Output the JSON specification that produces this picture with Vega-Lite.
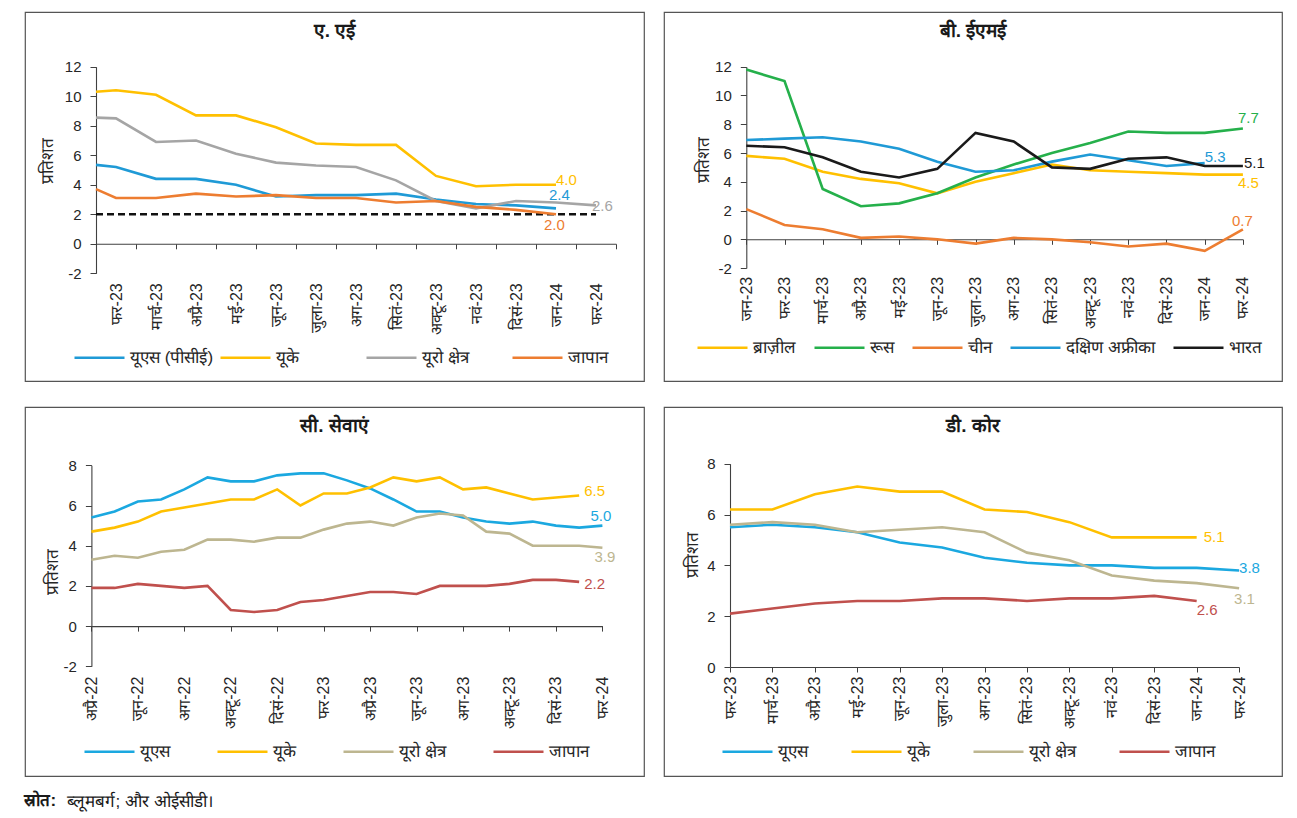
{
  "$schema": "https://vega.github.io/schema/vega-lite/v6.json",
  "background": "white",
  "padding": {"left": 24, "top": 11, "right": 10, "bottom": 4},
  "config": {
    "font": "Liberation Sans",
    "view": {"stroke": "#555555", "strokeWidth": 1.2},
    "axis": {"grid": false, "labelFontSize": 15, "labelColor": "#262626", "tickColor": "#404040", "domainColor": "#404040", "tickWidth": 1, "domainWidth": 1.1, "titleFontSize": 17, "titleFontWeight": "normal", "titleColor": "#262626", "labelFlush": false, "labelOverlap": false},
    "title": {"fontSize": 19, "fontWeight": "bold", "offset": -29, "baseline": "alphabetic", "anchor": "middle", "frame": "group", "color": "#1a1a1a"},
    "legend": {"orient": "none", "direction": "horizontal", "title": null, "symbolType": "stroke", "symbolSize": 2500, "symbolStrokeWidth": 2.6, "labelFontSize": 17, "labelColor": "#262626", "labelOffset": 4, "columnPadding": 25, "labelLimit": 300}
  },
  "title": {"text": "स्रोत:", "orient": "bottom", "anchor": "start", "frame": "bounds", "fontSize": 17, "fontWeight": "bold", "offset": 0, "dy": -17, "baseline": "top", "color": "#1a1a1a"},
  "vconcat": [
    {
      "title": {"text": "ब्लूमबर्ग; और ओईसीडी।", "orient": "bottom", "anchor": "start", "frame": "bounds", "fontSize": 17, "fontWeight": "normal", "offset": 17, "dx": 43, "baseline": "top", "color": "#1a1a1a"},
      "columns": 2,
      "spacing": {"row": 24, "column": 18},
      "resolve": {"scale": {"x": "independent", "y": "independent", "color": "independent"}, "legend": {"color": "independent"}},
      "concat": [
        {
          "width": 619, "height": 369,
          "title": {"text": "ए. एई"},
          "data": {"values": [
            {"s": "यूएस (पीसीई)", "m": 0.5, "v": 5.35}, {"s": "यूएस (पीसीई)", "m": 1, "v": 5.2}, {"s": "यूएस (पीसीई)", "m": 2, "v": 4.4}, {"s": "यूएस (पीसीई)", "m": 3, "v": 4.4}, {"s": "यूएस (पीसीई)", "m": 4, "v": 4.0}, {"s": "यूएस (पीसीई)", "m": 5, "v": 3.2}, {"s": "यूएस (पीसीई)", "m": 6, "v": 3.3}, {"s": "यूएस (पीसीई)", "m": 7, "v": 3.3}, {"s": "यूएस (पीसीई)", "m": 8, "v": 3.4}, {"s": "यूएस (पीसीई)", "m": 9, "v": 3.0}, {"s": "यूएस (पीसीई)", "m": 10, "v": 2.7}, {"s": "यूएस (पीसीई)", "m": 11, "v": 2.6}, {"s": "यूएस (पीसीई)", "m": 12, "v": 2.4},
            {"s": "यूके", "m": 0.5, "v": 10.3}, {"s": "यूके", "m": 1, "v": 10.4}, {"s": "यूके", "m": 2, "v": 10.1}, {"s": "यूके", "m": 3, "v": 8.7}, {"s": "यूके", "m": 4, "v": 8.7}, {"s": "यूके", "m": 5, "v": 7.9}, {"s": "यूके", "m": 6, "v": 6.8}, {"s": "यूके", "m": 7, "v": 6.7}, {"s": "यूके", "m": 8, "v": 6.7}, {"s": "यूके", "m": 9, "v": 4.6}, {"s": "यूके", "m": 10, "v": 3.9}, {"s": "यूके", "m": 11, "v": 4.0}, {"s": "यूके", "m": 12, "v": 4.0},
            {"s": "यूरो क्षेत्र", "m": 0.5, "v": 8.55}, {"s": "यूरो क्षेत्र", "m": 1, "v": 8.5}, {"s": "यूरो क्षेत्र", "m": 2, "v": 6.9}, {"s": "यूरो क्षेत्र", "m": 3, "v": 7.0}, {"s": "यूरो क्षेत्र", "m": 4, "v": 6.1}, {"s": "यूरो क्षेत्र", "m": 5, "v": 5.5}, {"s": "यूरो क्षेत्र", "m": 6, "v": 5.3}, {"s": "यूरो क्षेत्र", "m": 7, "v": 5.2}, {"s": "यूरो क्षेत्र", "m": 8, "v": 4.3}, {"s": "यूरो क्षेत्र", "m": 9, "v": 2.9}, {"s": "यूरो क्षेत्र", "m": 10, "v": 2.4}, {"s": "यूरो क्षेत्र", "m": 11, "v": 2.9}, {"s": "यूरो क्षेत्र", "m": 12, "v": 2.8}, {"s": "यूरो क्षेत्र", "m": 13, "v": 2.6},
            {"s": "जापान", "m": 0.5, "v": 3.7}, {"s": "जापान", "m": 1, "v": 3.1}, {"s": "जापान", "m": 2, "v": 3.1}, {"s": "जापान", "m": 3, "v": 3.4}, {"s": "जापान", "m": 4, "v": 3.2}, {"s": "जापान", "m": 5, "v": 3.3}, {"s": "जापान", "m": 6, "v": 3.1}, {"s": "जापान", "m": 7, "v": 3.1}, {"s": "जापान", "m": 8, "v": 2.8}, {"s": "जापान", "m": 9, "v": 2.9}, {"s": "जापान", "m": 10, "v": 2.5}, {"s": "जापान", "m": 11, "v": 2.3}, {"s": "जापान", "m": 12, "v": 2.0}
          ]},
          "layer": [
            {
              "data": {"values": [{"m": 0.5, "m2": 13, "v": 2}]},
              "mark": {"type": "rule", "color": "#111111", "strokeWidth": 2.5, "strokeDash": [7, 4]},
              "encoding": {"x": {"field": "m", "type": "quantitative"}, "x2": {"field": "m2"}, "y": {"field": "v", "type": "quantitative"}}
            },
            {
              "mark": {"type": "line", "strokeWidth": 2.6},
              "encoding": {
                "x": {"field": "m", "type": "quantitative", "title": null,
                  "scale": {"domain": [0.5, 13.5], "range": [71, 591], "nice": false, "zero": false},
                  "axis": {"values": [0.5, 1.5, 2.5, 3.5, 4.5, 5.5, 6.5, 7.5, 8.5, 9.5, 10.5, 11.5, 12.5, 13.5], "labelExpr": "['फर-23','मार्च-23','अप्रै-23','मई-23','जून-23','जुला-23','अग-23','सितं-23','अक्टू-23','नवं-23','दिसं-23','जन-24','फर-24',''][floor(datum.value)]", "labelOffset": 20, "labelAngle": -90, "labelFontSize": 16, "labelPadding": 34, "tickSize": 5, "offset": -137.2}},
                "y": {"field": "v", "type": "quantitative", "title": "प्रतिशत",
                  "scale": {"domain": [-2, 12], "range": [261.3, 54.7], "nice": false, "zero": false},
                  "axis": {"values": [-2, 0, 2, 4, 6, 8, 10, 12], "labelExpr": "'' + datum.value", "offset": -71, "tickSize": 6, "labelPadding": 9, "titleX": -49, "titleY": 148, "titleAngle": 270, "titleAlign": "center", "titleBaseline": "middle"}},
                "color": {"field": "s", "type": "nominal",
                  "scale": {"domain": ["यूएस (पीसीई)", "यूके", "यूरो क्षेत्र", "जापान"], "range": ["#1F9AD6", "#FFC000", "#A5A5A5", "#ED7D31"]},
                  "legend": {"legendX": 48, "legendY": 319, "columns": 4, "gridAlign": "all", "columnPadding": 1}}
              }
            },
            {"transform": [{"filter": "datum.s == 'यूके' && datum.m == 12"}], "mark": {"type": "text", "align": "left", "baseline": "middle", "dx": 0, "dy": -5, "fontSize": 15, "color": "#FFC000"}, "encoding": {"x": {"field": "m", "type": "quantitative"}, "y": {"field": "v", "type": "quantitative"}, "text": {"field": "v", "format": ".1f"}}},
            {"transform": [{"filter": "datum.s == 'यूएस (पीसीई)' && datum.m == 12"}], "mark": {"type": "text", "align": "left", "baseline": "middle", "dx": -7, "dy": -13, "fontSize": 15, "color": "#1F9AD6"}, "encoding": {"x": {"field": "m", "type": "quantitative"}, "y": {"field": "v", "type": "quantitative"}, "text": {"field": "v", "format": ".1f"}}},
            {"transform": [{"filter": "datum.s == 'यूरो क्षेत्र' && datum.m == 13"}], "mark": {"type": "text", "align": "left", "baseline": "middle", "dx": -4, "dy": 1, "fontSize": 15, "color": "#A5A5A5"}, "encoding": {"x": {"field": "m", "type": "quantitative"}, "y": {"field": "v", "type": "quantitative"}, "text": {"field": "v", "format": ".1f"}}},
            {"transform": [{"filter": "datum.s == 'जापान' && datum.m == 12"}], "mark": {"type": "text", "align": "left", "baseline": "middle", "dx": -12, "dy": 11, "fontSize": 15, "color": "#ED7D31"}, "encoding": {"x": {"field": "m", "type": "quantitative"}, "y": {"field": "v", "type": "quantitative"}, "text": {"field": "v", "format": ".1f"}}}
          ]
        },
        {
          "width": 618, "height": 369,
          "title": {"text": "बी. ईएमई"},
          "data": {"values": [
            {"s": "ब्राज़ील", "m": 0, "v": 5.8}, {"s": "ब्राज़ील", "m": 1, "v": 5.6}, {"s": "ब्राज़ील", "m": 2, "v": 4.7}, {"s": "ब्राज़ील", "m": 3, "v": 4.2}, {"s": "ब्राज़ील", "m": 4, "v": 3.9}, {"s": "ब्राज़ील", "m": 5, "v": 3.2}, {"s": "ब्राज़ील", "m": 6, "v": 4.0}, {"s": "ब्राज़ील", "m": 7, "v": 4.6}, {"s": "ब्राज़ील", "m": 8, "v": 5.2}, {"s": "ब्राज़ील", "m": 9, "v": 4.8}, {"s": "ब्राज़ील", "m": 10, "v": 4.7}, {"s": "ब्राज़ील", "m": 11, "v": 4.6}, {"s": "ब्राज़ील", "m": 12, "v": 4.5}, {"s": "ब्राज़ील", "m": 13, "v": 4.5},
            {"s": "रूस", "m": 0, "v": 11.8}, {"s": "रूस", "m": 1, "v": 11.0}, {"s": "रूस", "m": 2, "v": 3.5}, {"s": "रूस", "m": 3, "v": 2.3}, {"s": "रूस", "m": 4, "v": 2.5}, {"s": "रूस", "m": 5, "v": 3.2}, {"s": "रूस", "m": 6, "v": 4.3}, {"s": "रूस", "m": 7, "v": 5.2}, {"s": "रूस", "m": 8, "v": 6.0}, {"s": "रूस", "m": 9, "v": 6.7}, {"s": "रूस", "m": 10, "v": 7.5}, {"s": "रूस", "m": 11, "v": 7.4}, {"s": "रूस", "m": 12, "v": 7.4}, {"s": "रूस", "m": 13, "v": 7.7},
            {"s": "चीन", "m": 0, "v": 2.1}, {"s": "चीन", "m": 1, "v": 1.0}, {"s": "चीन", "m": 2, "v": 0.7}, {"s": "चीन", "m": 3, "v": 0.1}, {"s": "चीन", "m": 4, "v": 0.2}, {"s": "चीन", "m": 5, "v": 0.0}, {"s": "चीन", "m": 6, "v": -0.3}, {"s": "चीन", "m": 7, "v": 0.1}, {"s": "चीन", "m": 8, "v": 0.0}, {"s": "चीन", "m": 9, "v": -0.2}, {"s": "चीन", "m": 10, "v": -0.5}, {"s": "चीन", "m": 11, "v": -0.3}, {"s": "चीन", "m": 12, "v": -0.8}, {"s": "चीन", "m": 13, "v": 0.7},
            {"s": "दक्षिण अफ्रीका", "m": 0, "v": 6.9}, {"s": "दक्षिण अफ्रीका", "m": 1, "v": 7.0}, {"s": "दक्षिण अफ्रीका", "m": 2, "v": 7.1}, {"s": "दक्षिण अफ्रीका", "m": 3, "v": 6.8}, {"s": "दक्षिण अफ्रीका", "m": 4, "v": 6.3}, {"s": "दक्षिण अफ्रीका", "m": 5, "v": 5.4}, {"s": "दक्षिण अफ्रीका", "m": 6, "v": 4.7}, {"s": "दक्षिण अफ्रीका", "m": 7, "v": 4.8}, {"s": "दक्षिण अफ्रीका", "m": 8, "v": 5.4}, {"s": "दक्षिण अफ्रीका", "m": 9, "v": 5.9}, {"s": "दक्षिण अफ्रीका", "m": 10, "v": 5.5}, {"s": "दक्षिण अफ्रीका", "m": 11, "v": 5.1}, {"s": "दक्षिण अफ्रीका", "m": 12, "v": 5.3},
            {"s": "भारत", "m": 0, "v": 6.5}, {"s": "भारत", "m": 1, "v": 6.4}, {"s": "भारत", "m": 2, "v": 5.7}, {"s": "भारत", "m": 3, "v": 4.7}, {"s": "भारत", "m": 4, "v": 4.3}, {"s": "भारत", "m": 5, "v": 4.9}, {"s": "भारत", "m": 6, "v": 7.4}, {"s": "भारत", "m": 7, "v": 6.8}, {"s": "भारत", "m": 8, "v": 5.0}, {"s": "भारत", "m": 9, "v": 4.9}, {"s": "भारत", "m": 10, "v": 5.6}, {"s": "भारत", "m": 11, "v": 5.7}, {"s": "भारत", "m": 12, "v": 5.1}, {"s": "भारत", "m": 13, "v": 5.1}
          ]},
          "layer": [
            {
              "mark": {"type": "line", "strokeWidth": 2.6},
              "encoding": {
                "x": {"field": "m", "type": "quantitative", "title": null,
                  "scale": {"domain": [0, 13], "range": [82.3, 578.9], "nice": false, "zero": false},
                  "axis": {"values": [0, 1, 2, 3, 4, 5, 6, 7, 8, 9, 10, 11, 12, 13], "labelExpr": "['जन-23','फर-23','मार्च-23','अप्रै-23','मई-23','जून-23','जुला-23','अग-23','सितं-23','अक्टू-23','नवं-23','दिसं-23','जन-24','फर-24'][datum.value]", "labelAngle": -90, "labelFontSize": 16, "labelPadding": 32, "tickSize": 5, "offset": -141.7}},
                "y": {"field": "v", "type": "quantitative", "title": "प्रतिशत",
                  "scale": {"domain": [-2, 12], "range": [256.1, 54.7], "nice": false, "zero": false},
                  "axis": {"values": [-2, 0, 2, 4, 6, 8, 10, 12], "labelExpr": "'' + datum.value", "offset": -82.3, "tickSize": 6, "labelPadding": 9, "titleX": -43, "titleY": 147, "titleAngle": 270, "titleAlign": "center", "titleBaseline": "middle"}},
                "color": {"field": "s", "type": "nominal",
                  "scale": {"domain": ["ब्राज़ील", "रूस", "चीन", "दक्षिण अफ्रीका", "भारत"], "range": ["#FFC000", "#25B04B", "#ED7D31", "#1F9AD6", "#1A1A1A"]},
                  "legend": {"legendX": 32, "legendY": 309, "columnPadding": 13}}
              }
            },
            {"transform": [{"filter": "datum.s == 'रूस' && datum.m == 13"}], "mark": {"type": "text", "align": "left", "baseline": "middle", "dx": -5, "dy": -11, "fontSize": 15, "color": "#25B04B"}, "encoding": {"x": {"field": "m", "type": "quantitative"}, "y": {"field": "v", "type": "quantitative"}, "text": {"field": "v", "format": ".1f"}}},
            {"transform": [{"filter": "datum.s == 'दक्षिण अफ्रीका' && datum.m == 12"}], "mark": {"type": "text", "align": "left", "baseline": "middle", "dx": 0, "dy": -6, "fontSize": 15, "color": "#1F9AD6"}, "encoding": {"x": {"field": "m", "type": "quantitative"}, "y": {"field": "v", "type": "quantitative"}, "text": {"field": "v", "format": ".1f"}}},
            {"transform": [{"filter": "datum.s == 'भारत' && datum.m == 13"}], "mark": {"type": "text", "align": "left", "baseline": "middle", "dx": 1, "dy": -3, "fontSize": 15, "color": "#1A1A1A"}, "encoding": {"x": {"field": "m", "type": "quantitative"}, "y": {"field": "v", "type": "quantitative"}, "text": {"field": "v", "format": ".1f"}}},
            {"transform": [{"filter": "datum.s == 'ब्राज़ील' && datum.m == 13"}], "mark": {"type": "text", "align": "left", "baseline": "middle", "dx": -5, "dy": 8, "fontSize": 15, "color": "#FFC000"}, "encoding": {"x": {"field": "m", "type": "quantitative"}, "y": {"field": "v", "type": "quantitative"}, "text": {"field": "v", "format": ".1f"}}},
            {"transform": [{"filter": "datum.s == 'चीन' && datum.m == 13"}], "mark": {"type": "text", "align": "left", "baseline": "middle", "dx": -11, "dy": -8, "fontSize": 15, "color": "#ED7D31"}, "encoding": {"x": {"field": "m", "type": "quantitative"}, "y": {"field": "v", "type": "quantitative"}, "text": {"field": "v", "format": ".1f"}}}
          ]
        },
        {
          "width": 619, "height": 369,
          "title": {"text": "सी. सेवाएं"},
          "data": {"values": [
            {"s": "यूएस", "m": 0, "v": 5.4}, {"s": "यूएस", "m": 1, "v": 5.7}, {"s": "यूएस", "m": 2, "v": 6.2}, {"s": "यूएस", "m": 3, "v": 6.3}, {"s": "यूएस", "m": 4, "v": 6.8}, {"s": "यूएस", "m": 5, "v": 7.4}, {"s": "यूएस", "m": 6, "v": 7.2}, {"s": "यूएस", "m": 7, "v": 7.2}, {"s": "यूएस", "m": 8, "v": 7.5}, {"s": "यूएस", "m": 9, "v": 7.6}, {"s": "यूएस", "m": 10, "v": 7.6}, {"s": "यूएस", "m": 11, "v": 7.25}, {"s": "यूएस", "m": 12, "v": 6.85}, {"s": "यूएस", "m": 13, "v": 6.3}, {"s": "यूएस", "m": 14, "v": 5.7}, {"s": "यूएस", "m": 15, "v": 5.7}, {"s": "यूएस", "m": 16, "v": 5.4}, {"s": "यूएस", "m": 17, "v": 5.2}, {"s": "यूएस", "m": 18, "v": 5.1}, {"s": "यूएस", "m": 19, "v": 5.2}, {"s": "यूएस", "m": 20, "v": 5.0}, {"s": "यूएस", "m": 21, "v": 4.9}, {"s": "यूएस", "m": 22, "v": 5.0},
            {"s": "यूके", "m": 0, "v": 4.7}, {"s": "यूके", "m": 1, "v": 4.9}, {"s": "यूके", "m": 2, "v": 5.2}, {"s": "यूके", "m": 3, "v": 5.7}, {"s": "यूके", "m": 4, "v": 5.9}, {"s": "यूके", "m": 5, "v": 6.1}, {"s": "यूके", "m": 6, "v": 6.3}, {"s": "यूके", "m": 7, "v": 6.3}, {"s": "यूके", "m": 8, "v": 6.8}, {"s": "यूके", "m": 9, "v": 6.0}, {"s": "यूके", "m": 10, "v": 6.6}, {"s": "यूके", "m": 11, "v": 6.6}, {"s": "यूके", "m": 12, "v": 6.9}, {"s": "यूके", "m": 13, "v": 7.4}, {"s": "यूके", "m": 14, "v": 7.2}, {"s": "यूके", "m": 15, "v": 7.4}, {"s": "यूके", "m": 16, "v": 6.8}, {"s": "यूके", "m": 17, "v": 6.9}, {"s": "यूके", "m": 18, "v": 6.6}, {"s": "यूके", "m": 19, "v": 6.3}, {"s": "यूके", "m": 20, "v": 6.4}, {"s": "यूके", "m": 21, "v": 6.5},
            {"s": "यूरो क्षेत्र", "m": 0, "v": 3.3}, {"s": "यूरो क्षेत्र", "m": 1, "v": 3.5}, {"s": "यूरो क्षेत्र", "m": 2, "v": 3.4}, {"s": "यूरो क्षेत्र", "m": 3, "v": 3.7}, {"s": "यूरो क्षेत्र", "m": 4, "v": 3.8}, {"s": "यूरो क्षेत्र", "m": 5, "v": 4.3}, {"s": "यूरो क्षेत्र", "m": 6, "v": 4.3}, {"s": "यूरो क्षेत्र", "m": 7, "v": 4.2}, {"s": "यूरो क्षेत्र", "m": 8, "v": 4.4}, {"s": "यूरो क्षेत्र", "m": 9, "v": 4.4}, {"s": "यूरो क्षेत्र", "m": 10, "v": 4.8}, {"s": "यूरो क्षेत्र", "m": 11, "v": 5.1}, {"s": "यूरो क्षेत्र", "m": 12, "v": 5.2}, {"s": "यूरो क्षेत्र", "m": 13, "v": 5.0}, {"s": "यूरो क्षेत्र", "m": 14, "v": 5.4}, {"s": "यूरो क्षेत्र", "m": 15, "v": 5.6}, {"s": "यूरो क्षेत्र", "m": 16, "v": 5.5}, {"s": "यूरो क्षेत्र", "m": 17, "v": 4.7}, {"s": "यूरो क्षेत्र", "m": 18, "v": 4.6}, {"s": "यूरो क्षेत्र", "m": 19, "v": 4.0}, {"s": "यूरो क्षेत्र", "m": 20, "v": 4.0}, {"s": "यूरो क्षेत्र", "m": 21, "v": 4.0}, {"s": "यूरो क्षेत्र", "m": 22, "v": 3.9},
            {"s": "जापान", "m": 0, "v": 1.9}, {"s": "जापान", "m": 1, "v": 1.9}, {"s": "जापान", "m": 2, "v": 2.1}, {"s": "जापान", "m": 3, "v": 2.0}, {"s": "जापान", "m": 4, "v": 1.9}, {"s": "जापान", "m": 5, "v": 2.0}, {"s": "जापान", "m": 6, "v": 0.8}, {"s": "जापान", "m": 7, "v": 0.7}, {"s": "जापान", "m": 8, "v": 0.8}, {"s": "जापान", "m": 9, "v": 1.2}, {"s": "जापान", "m": 10, "v": 1.3}, {"s": "जापान", "m": 11, "v": 1.5}, {"s": "जापान", "m": 12, "v": 1.7}, {"s": "जापान", "m": 13, "v": 1.7}, {"s": "जापान", "m": 14, "v": 1.6}, {"s": "जापान", "m": 15, "v": 2.0}, {"s": "जापान", "m": 16, "v": 2.0}, {"s": "जापान", "m": 17, "v": 2.0}, {"s": "जापान", "m": 18, "v": 2.1}, {"s": "जापान", "m": 19, "v": 2.3}, {"s": "जापान", "m": 20, "v": 2.3}, {"s": "जापान", "m": 21, "v": 2.2}
          ]},
          "layer": [
            {
              "mark": {"type": "line", "strokeWidth": 2.6},
              "encoding": {
                "x": {"field": "m", "type": "quantitative", "title": null,
                  "scale": {"domain": [0, 22], "range": [66.4, 577.4], "nice": false, "zero": false},
                  "axis": {"values": [0, 2, 4, 6, 8, 10, 12, 14, 16, 18, 20, 22], "labelExpr": "['अप्रै-22','जून-22','अग-22','अक्टू-22','दिसं-22','फर-23','अप्रै-23','जून-23','अग-23','अक्टू-23','दिसं-23','फर-24'][datum.value / 2]", "labelAngle": -90, "labelFontSize": 16, "labelPadding": 45, "tickSize": 5, "offset": -149.9}},
                "y": {"field": "v", "type": "quantitative", "title": "प्रतिशत",
                  "scale": {"domain": [-2, 8], "range": [259.3, 58.3], "nice": false, "zero": false},
                  "axis": {"values": [-2, 0, 2, 4, 6, 8], "labelExpr": "'' + datum.value", "offset": -66.4, "tickSize": 6, "labelPadding": 9, "titleX": -39, "titleY": 164, "titleAngle": 270, "titleAlign": "center", "titleBaseline": "middle"}},
                "color": {"field": "s", "type": "nominal",
                  "scale": {"domain": ["यूएस", "यूके", "यूरो क्षेत्र", "जापान"], "range": ["#1BA8E0", "#FFC000", "#BDB690", "#C0504D"]},
                  "legend": {"legendX": 58, "legendY": 318, "columnPadding": 42}}
              }
            },
            {"transform": [{"filter": "datum.s == 'यूके' && datum.m == 21"}], "mark": {"type": "text", "align": "left", "baseline": "middle", "dx": 5, "dy": -4, "fontSize": 15, "color": "#FFC000"}, "encoding": {"x": {"field": "m", "type": "quantitative"}, "y": {"field": "v", "type": "quantitative"}, "text": {"field": "v", "format": ".1f"}}},
            {"transform": [{"filter": "datum.s == 'यूएस' && datum.m == 22"}], "mark": {"type": "text", "align": "left", "baseline": "middle", "dx": -12, "dy": -10, "fontSize": 15, "color": "#1BA8E0"}, "encoding": {"x": {"field": "m", "type": "quantitative"}, "y": {"field": "v", "type": "quantitative"}, "text": {"field": "v", "format": ".1f"}}},
            {"transform": [{"filter": "datum.s == 'यूरो क्षेत्र' && datum.m == 22"}], "mark": {"type": "text", "align": "left", "baseline": "middle", "dx": -8, "dy": 9, "fontSize": 15, "color": "#BDB690"}, "encoding": {"x": {"field": "m", "type": "quantitative"}, "y": {"field": "v", "type": "quantitative"}, "text": {"field": "v", "format": ".1f"}}},
            {"transform": [{"filter": "datum.s == 'जापान' && datum.m == 21"}], "mark": {"type": "text", "align": "left", "baseline": "middle", "dx": 5, "dy": 2, "fontSize": 15, "color": "#C0504D"}, "encoding": {"x": {"field": "m", "type": "quantitative"}, "y": {"field": "v", "type": "quantitative"}, "text": {"field": "v", "format": ".1f"}}}
          ]
        },
        {
          "width": 618, "height": 369,
          "title": {"text": "डी. कोर"},
          "data": {"values": [
            {"s": "यूएस", "m": 0, "v": 5.5}, {"s": "यूएस", "m": 1, "v": 5.6}, {"s": "यूएस", "m": 2, "v": 5.5}, {"s": "यूएस", "m": 3, "v": 5.3}, {"s": "यूएस", "m": 4, "v": 4.9}, {"s": "यूएस", "m": 5, "v": 4.7}, {"s": "यूएस", "m": 6, "v": 4.3}, {"s": "यूएस", "m": 7, "v": 4.1}, {"s": "यूएस", "m": 8, "v": 4.0}, {"s": "यूएस", "m": 9, "v": 4.0}, {"s": "यूएस", "m": 10, "v": 3.9}, {"s": "यूएस", "m": 11, "v": 3.9}, {"s": "यूएस", "m": 12, "v": 3.8},
            {"s": "यूके", "m": 0, "v": 6.2}, {"s": "यूके", "m": 1, "v": 6.2}, {"s": "यूके", "m": 2, "v": 6.8}, {"s": "यूके", "m": 3, "v": 7.1}, {"s": "यूके", "m": 4, "v": 6.9}, {"s": "यूके", "m": 5, "v": 6.9}, {"s": "यूके", "m": 6, "v": 6.2}, {"s": "यूके", "m": 7, "v": 6.1}, {"s": "यूके", "m": 8, "v": 5.7}, {"s": "यूके", "m": 9, "v": 5.1}, {"s": "यूके", "m": 10, "v": 5.1}, {"s": "यूके", "m": 11, "v": 5.1},
            {"s": "यूरो क्षेत्र", "m": 0, "v": 5.6}, {"s": "यूरो क्षेत्र", "m": 1, "v": 5.7}, {"s": "यूरो क्षेत्र", "m": 2, "v": 5.6}, {"s": "यूरो क्षेत्र", "m": 3, "v": 5.3}, {"s": "यूरो क्षेत्र", "m": 4, "v": 5.4}, {"s": "यूरो क्षेत्र", "m": 5, "v": 5.5}, {"s": "यूरो क्षेत्र", "m": 6, "v": 5.3}, {"s": "यूरो क्षेत्र", "m": 7, "v": 4.5}, {"s": "यूरो क्षेत्र", "m": 8, "v": 4.2}, {"s": "यूरो क्षेत्र", "m": 9, "v": 3.6}, {"s": "यूरो क्षेत्र", "m": 10, "v": 3.4}, {"s": "यूरो क्षेत्र", "m": 11, "v": 3.3}, {"s": "यूरो क्षेत्र", "m": 12, "v": 3.1},
            {"s": "जापान", "m": 0, "v": 2.1}, {"s": "जापान", "m": 1, "v": 2.3}, {"s": "जापान", "m": 2, "v": 2.5}, {"s": "जापान", "m": 3, "v": 2.6}, {"s": "जापान", "m": 4, "v": 2.6}, {"s": "जापान", "m": 5, "v": 2.7}, {"s": "जापान", "m": 6, "v": 2.7}, {"s": "जापान", "m": 7, "v": 2.6}, {"s": "जापान", "m": 8, "v": 2.7}, {"s": "जापान", "m": 9, "v": 2.7}, {"s": "जापान", "m": 10, "v": 2.8}, {"s": "जापान", "m": 11, "v": 2.6}
          ]},
          "layer": [
            {
              "mark": {"type": "line", "strokeWidth": 2.6},
              "encoding": {
                "x": {"field": "m", "type": "quantitative", "title": null,
                  "scale": {"domain": [0, 12], "range": [66, 575.1], "nice": false, "zero": false},
                  "axis": {"values": [0, 1, 2, 3, 4, 5, 6, 7, 8, 9, 10, 11, 12], "labelExpr": "['फर-23','मार्च-23','अप्रै-23','मई-23','जून-23','जुला-23','अग-23','सितं-23','अक्टू-23','नवं-23','दिसं-23','जन-24','फर-24'][datum.value]", "labelAngle": -90, "labelFontSize": 16, "labelPadding": 4, "tickSize": 5, "offset": -109}},
                "y": {"field": "v", "type": "quantitative", "title": "प्रतिशत",
                  "scale": {"domain": [0, 8], "range": [260, 56.7], "nice": false, "zero": false},
                  "axis": {"values": [0, 2, 4, 6, 8], "labelExpr": "'' + datum.value", "offset": -66, "tickSize": 6, "labelPadding": 9, "titleX": -38, "titleY": 147, "titleAngle": 270, "titleAlign": "center", "titleBaseline": "middle"}},
                "color": {"field": "s", "type": "nominal",
                  "scale": {"domain": ["यूएस", "यूके", "यूरो क्षेत्र", "जापान"], "range": ["#1BA8E0", "#FFC000", "#BDB690", "#C0504D"]},
                  "legend": {"legendX": 57, "legendY": 318, "columnPadding": 38}}
              }
            },
            {"transform": [{"filter": "datum.s == 'यूके' && datum.m == 11"}], "mark": {"type": "text", "align": "left", "baseline": "middle", "dx": 7, "dy": 0, "fontSize": 15, "color": "#FFC000"}, "encoding": {"x": {"field": "m", "type": "quantitative"}, "y": {"field": "v", "type": "quantitative"}, "text": {"field": "v", "format": ".1f"}}},
            {"transform": [{"filter": "datum.s == 'यूएस' && datum.m == 12"}], "mark": {"type": "text", "align": "left", "baseline": "middle", "dx": 0, "dy": -2, "fontSize": 15, "color": "#1BA8E0"}, "encoding": {"x": {"field": "m", "type": "quantitative"}, "y": {"field": "v", "type": "quantitative"}, "text": {"field": "v", "format": ".1f"}}},
            {"transform": [{"filter": "datum.s == 'यूरो क्षेत्र' && datum.m == 12"}], "mark": {"type": "text", "align": "left", "baseline": "middle", "dx": -5, "dy": 11, "fontSize": 15, "color": "#BDB690"}, "encoding": {"x": {"field": "m", "type": "quantitative"}, "y": {"field": "v", "type": "quantitative"}, "text": {"field": "v", "format": ".1f"}}},
            {"transform": [{"filter": "datum.s == 'जापान' && datum.m == 11"}], "mark": {"type": "text", "align": "left", "baseline": "middle", "dx": 0, "dy": 9, "fontSize": 15, "color": "#C0504D"}, "encoding": {"x": {"field": "m", "type": "quantitative"}, "y": {"field": "v", "type": "quantitative"}, "text": {"field": "v", "format": ".1f"}}}
          ]
        }
      ]
    }
  ]
}
